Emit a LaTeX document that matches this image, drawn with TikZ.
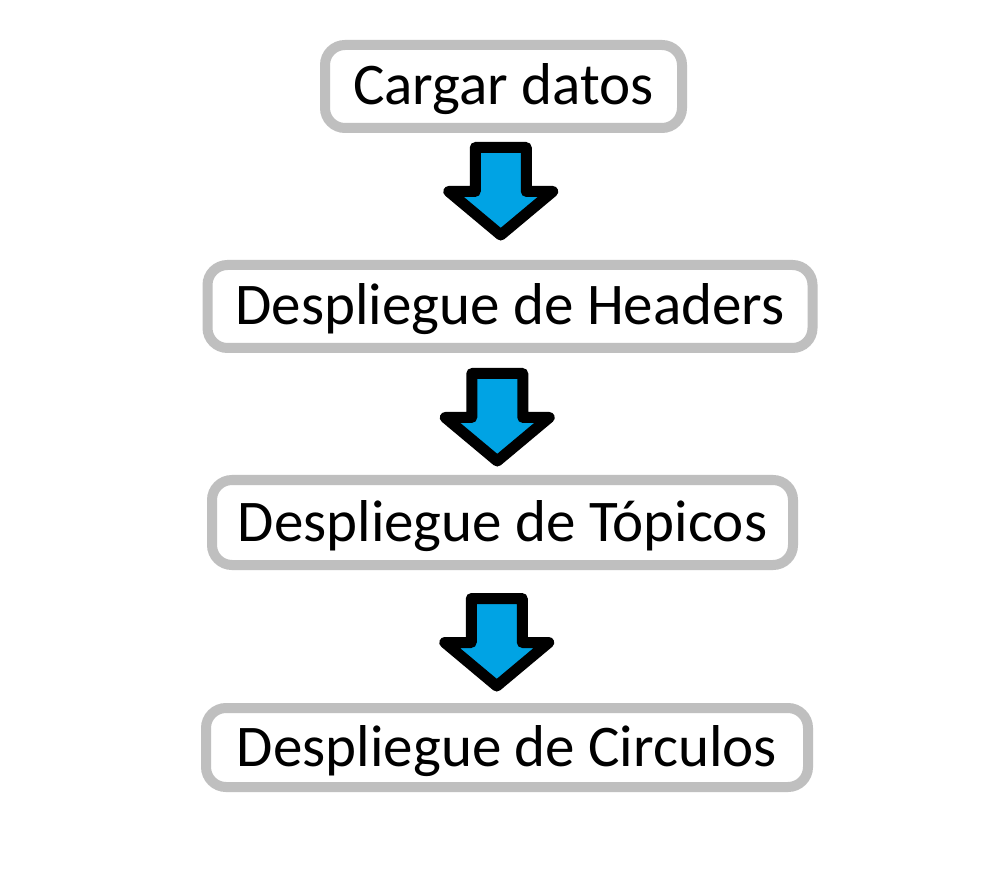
\documentclass[tikz,border=0pt]{standalone}
\usepackage{fontspec}
\setmainfont{Carlito}
\usetikzlibrary{calc}
\definecolor{stepgray}{RGB}{191,191,191}
\definecolor{stepblue}{RGB}{0,163,228}
\definecolor{stepink}{RGB}{0,0,0}
\tikzset{
  stepbox/.style={draw=stepgray, line width=0.1cm, rounded corners=0.2cm,
    fill=white, inner sep=0pt, text=stepink, text depth=0.04cm,
    font=\fontsize{16.8}{20}\selectfont},
  steparrow/.style={draw=stepink, fill=stepblue, line width=0.11cm,
    line join=round},
  pics/downarrow/.style={code={
    \draw[steparrow] (-0.255,0.44) -- (0.255,0.44) -- (0.255,0) -- (0.52,0)
      -- (0,-0.435) -- (-0.52,0) -- (-0.255,0) -- cycle;
  }},
}
\begin{document}
\begin{tikzpicture}
  \fill[white] (0,0) rectangle (10,-8.96);
  \useasboundingbox (0,0) rectangle (10,-8.96);
  % pasos
  \node[stepbox, minimum width=3.57cm, minimum height=0.83cm] (cargar) at (5.035,-0.865) {Cargar datos};
  \node[stepbox, minimum width=6.05cm, minimum height=0.83cm] (headers) at (5.10,-3.065) {Despliegue de Headers};
  \node[stepbox, minimum width=5.81cm, minimum height=0.85cm] (topicos) at (5.025,-5.225) {Despliegue de Tópicos};
  \node[stepbox, minimum width=6.02cm, minimum height=0.79cm] (circulos) at (5.07,-7.475) {Despliegue de Circulos};
  % flechas
  \pic[xshift=-0.06cm, yshift=0.05cm] at ($(cargar.south)!0.5!(headers.north)$) {downarrow};
  \pic[xshift=-0.09cm, yshift=-0.035cm] at ($(headers.south)!0.5!(topicos.north)$) {downarrow};
  \pic[xshift=-0.08cm, yshift=-0.06cm] at ($(topicos.south)!0.5!(circulos.north)$) {downarrow};
\end{tikzpicture}
\end{document}
